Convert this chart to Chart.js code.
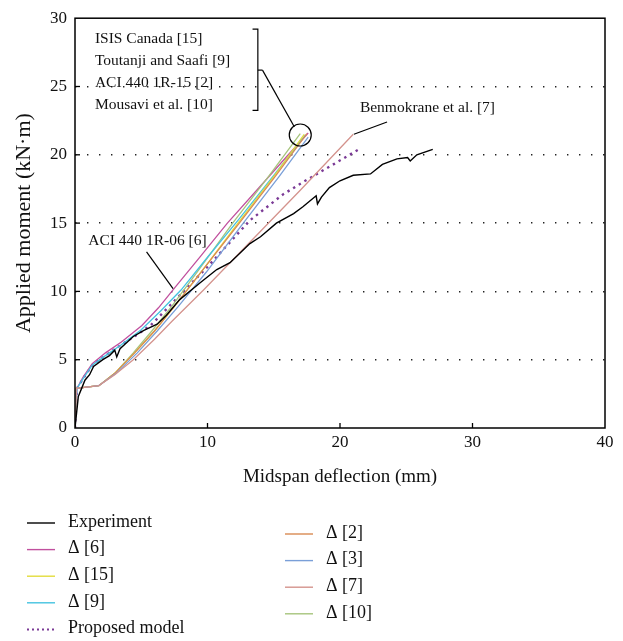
<!DOCTYPE html>
<html>
<head>
<meta charset="utf-8">
<title>Applied moment vs midspan deflection</title>
<style>
  html, body { margin: 0; padding: 0; background: #fff; }
</style>
</head>
<body>
<canvas id="myChart" width="623" height="641"></canvas>

<script src="https://cdn.jsdelivr.net/npm/chart.js"></script>
<script>
// ---- data (deflection mm, moment kN.m) ----
const expX = [0, 0.25, 0.5, 0.75, 1.1, 1.4, 2.1, 2.6, 3.0, 3.15, 3.4, 4.4, 5.2, 6.2, 6.9, 7.9, 9.4, 10.7, 11.7, 13.2, 14.0, 15.2, 16.5, 17.2, 18.2, 18.3, 18.6, 19.2, 20.0, 21.0, 22.3, 23.2, 24.3, 25.1, 25.3, 25.8, 27.0];
const expY = [0, 2.3, 2.9, 3.5, 3.9, 4.5, 5.0, 5.3, 5.7, 5.2, 5.8, 6.7, 7.15, 7.6, 8.25, 9.4, 10.6, 11.6, 12.1, 13.5, 14.0, 15.0, 15.7, 16.2, 17.0, 16.4, 16.9, 17.6, 18.1, 18.5, 18.6, 19.3, 19.7, 19.8, 19.55, 20.0, 20.4];

const d6X = [0, 0.15, 0.6, 1.3, 2.3, 3.5, 5.05, 6.3, 7.55, 9.5, 11.5, 13.8, 16.1, 17.6];
const d6Y = [0, 2.9, 3.7, 4.7, 5.5, 6.3, 7.5, 8.8, 10.3, 12.6, 15.0, 17.5, 20.0, 21.6];

const d15X = [0, 0.1, 1.8, 3.0, 4.5, 6.0, 7.5, 9.5, 12.3, 15.0, 17.3];
const d15Y = [0, 2.9, 3.1, 4.0, 5.5, 7.1, 8.9, 11.4, 15.0, 18.4, 21.5];

const d9X = [0, 0.15, 0.6, 1.3, 2.3, 3.5, 5.0, 6.5, 8.0, 10.0, 12.3, 15.0, 17.4];
const d9Y = [0, 2.9, 3.6, 4.6, 5.3, 6.1, 7.2, 8.6, 10.1, 12.5, 15.2, 18.5, 21.45];

const d2X = [0, 0.1, 1.8, 3.0, 4.5, 6.0, 7.5, 9.5, 12.4, 15.1, 17.5];
const d2Y = [0, 2.9, 3.1, 4.0, 5.5, 7.1, 8.9, 11.4, 15.0, 18.4, 21.55];

const d3X = [0, 0.1, 1.8, 3.1, 4.7, 6.2, 7.8, 9.9, 12.7, 15.4, 17.6];
const d3Y = [0, 2.9, 3.1, 4.0, 5.5, 7.1, 8.9, 11.4, 15.0, 18.4, 21.3];

const d7X = [0, 0.1, 1.8, 3.0, 4.4, 6.0, 7.3, 9.7, 13.2, 17.0, 21.0];
const d7Y = [0, 2.9, 3.1, 3.9, 5.0, 6.5, 7.8, 10.1, 13.6, 17.4, 21.5];

const d10X = [0, 0.1, 1.8, 3.0, 4.4, 5.8, 7.3, 9.2, 11.9, 14.6, 17.0];
const d10Y = [0, 2.9, 3.1, 4.0, 5.5, 7.1, 8.9, 11.4, 15.0, 18.4, 21.55];

const propX = [0, 0.15, 0.6, 1.3, 2.3, 3.5, 4.8, 5.8, 7.0, 8.5, 10.0, 11.6, 13.2, 15.7, 17.2, 19.5, 21.6];
const propY = [0, 2.9, 3.6, 4.6, 5.3, 6.1, 6.9, 7.6, 8.8, 10.3, 11.8, 13.5, 15.2, 17.1, 18.0, 19.3, 20.5];

const xTicks = [0, 10, 20, 30, 40];
const yTicks = [0, 5, 10, 15, 20, 25, 30];

// legend columns (labels of the datasets)
const legendLeft = ['Experiment', 'Δ [6]', 'Δ [15]', 'Δ [9]', 'Proposed model'];
const legendRight = ['Δ [2]', 'Δ [3]', 'Δ [7]', 'Δ [10]'];

const FONT = "'Liberation Serif', 'DejaVu Serif', serif";

function pts(xs, ys) {
    return xs.map((x, i) => ({ x: x, y: ys[i] }));
}

function line(label, xs, ys, color, width, dash) {
    return {
        label: label,
        data: pts(xs, ys),
        borderColor: color,
        backgroundColor: color,
        borderWidth: width,
        borderDash: dash || [],
        pointRadius: 0,
        tension: 0,
        fill: false
    };
}

// drawing order: bottom first
const datasets = [
    line('Experiment', expX, expY, '#000000', 1.4),
    line('Δ [7]', d7X, d7Y, '#d4938d', 1.3),
    line('Δ [3]', d3X, d3Y, '#7a9fd8', 1.3),
    line('Δ [2]', d2X, d2Y, '#d98a52', 1.3),
    line('Δ [15]', d15X, d15Y, '#e3dc3c', 1.3),
    line('Δ [9]', d9X, d9Y, '#45c3e0', 1.3),
    line('Δ [10]', d10X, d10Y, '#a6c47c', 1.3),
    line('Δ [6]', d6X, d6Y, '#c1509e', 1.3),
    line('Proposed model', propX, propY, '#7b3a96', 2.4, [2.4, 4.2])
];

function seg(ctx, x1, y1, x2, y2) {
    ctx.beginPath();
    ctx.moveTo(x1, y1);
    ctx.lineTo(x2, y2);
    ctx.stroke();
}

// frame, inward ticks, annotations
const decor = {
    id: 'decor',
    afterDatasetsDraw(chart) {
        const ctx = chart.ctx;
        const a = chart.chartArea;
        const sx = chart.scales.x;
        const sy = chart.scales.y;
        const X = v => sx.getPixelForValue(v);
        const Y = v => sy.getPixelForValue(v);

        ctx.save();
        ctx.strokeStyle = '#000';
        ctx.lineWidth = 1.5;
        ctx.strokeRect(a.left, a.top, a.right - a.left, a.bottom - a.top);

        ctx.lineWidth = 1.3;
        xTicks.slice(1, -1).forEach(v => seg(ctx, X(v), a.bottom, X(v), a.bottom - 5));
        yTicks.slice(1, -1).forEach(v => seg(ctx, a.left, Y(v), a.left + 5, Y(v)));

        // annotation text
        ctx.fillStyle = '#111';
        ctx.font = '15.5px ' + FONT;
        ctx.textBaseline = 'middle';
        ctx.textAlign = 'left';
        const names = ['ISIS Canada [15]', 'Toutanji and Saafi [9]', 'ACI 440 1R-15 [2]', 'Mousavi et al. [10]'];
        const rows = [28.45, 26.85, 25.25, 23.65];
        names.forEach((t, i) => ctx.fillText(t, X(1.5), Y(rows[i])));
        ctx.fillText('Benmokrane et al. [7]', X(21.5), Y(23.45));
        ctx.fillText('ACI 440 1R-06 [6]', X(1.0), Y(13.7));

        ctx.lineWidth = 1.2;
        ctx.strokeStyle = '#000';
        // bracket
        ctx.beginPath();
        ctx.moveTo(X(13.4), Y(29.2));
        ctx.lineTo(X(13.8), Y(29.2));
        ctx.lineTo(X(13.8), Y(23.25));
        ctx.lineTo(X(13.4), Y(23.25));
        ctx.stroke();
        seg(ctx, X(13.8), Y(26.2), X(14.15), Y(26.2));
        seg(ctx, X(14.15), Y(26.2), X(16.55), Y(22.05));
        ctx.beginPath();
        ctx.arc(X(17.0), Y(21.45), 11, 0, Math.PI * 2);
        ctx.stroke();
        // pointers
        seg(ctx, X(23.55), Y(22.4), X(21.05), Y(21.5));
        seg(ctx, X(5.4), Y(12.9), X(7.4), Y(10.2));
        ctx.restore();
    },
    afterDraw(chart) {
        const ctx = chart.ctx;
        const byLabel = {};
        chart.data.datasets.forEach(d => { byLabel[d.label] = d; });
        ctx.save();
        ctx.font = '18px ' + FONT;
        ctx.textBaseline = 'middle';
        ctx.textAlign = 'left';
        ctx.fillStyle = '#111';
        const drawCol = (labels, x0, y0) => {
            labels.forEach((lab, i) => {
                const d = byLabel[lab];
                const yy = y0 + i * 26.6;
                ctx.strokeStyle = d.borderColor;
                ctx.lineWidth = d.borderDash.length ? 2 : 1.4;
                ctx.setLineDash(d.borderDash.length ? [2, 3] : []);
                seg(ctx, x0, yy, x0 + 28, yy);
                ctx.setLineDash([]);
                ctx.fillText(lab, x0 + 41, yy - 1);
            });
        };
        drawCol(legendLeft, 27, 523);
        drawCol(legendRight, 285, 534);
        ctx.restore();
    }
};

const config = {
    type: 'line',
    data: { datasets: datasets },
    options: {
        responsive: false,
        animation: false,
        devicePixelRatio: 1,
        layout: { padding: { left: 0, right: 18, top: 17, bottom: 153 } },
        plugins: {
            legend: { display: false },
            tooltip: { enabled: false }
        },
        scales: {
            x: {
                type: 'linear',
                min: 0,
                max: 40,
                afterBuildTicks: s => { s.ticks = xTicks.map(v => ({ value: v })); },
                afterFit: s => { s.height = 60; },
                grid: { display: false, drawTicks: false },
                border: { display: false },
                ticks: { color: '#111', padding: 4, font: { family: FONT, size: 17 } },
                title: {
                    display: true,
                    text: 'Midspan deflection (mm)',
                    color: '#111',
                    padding: 0,
                    font: { family: FONT, size: 19 }
                }
            },
            y: {
                type: 'linear',
                min: 0,
                max: 30,
                afterBuildTicks: s => { s.ticks = yTicks.map(v => ({ value: v })); },
                afterFit: s => { s.width = 75; },
                grid: {
                    drawTicks: false,
                    lineWidth: 1.4,
                    color: c => (c.tick && c.tick.value > 0 && c.tick.value < 30) ? '#222' : 'rgba(0,0,0,0)'
                },
                border: { display: false, dash: [1.4, 10.6] },
                ticks: { color: '#111', padding: 8, font: { family: FONT, size: 17 } },
                title: {
                    display: true,
                    text: 'Applied moment (kN·m)',
                    color: '#111',
                    padding: { top: 11, bottom: 0, left: 0, right: 0 },
                    font: { family: FONT, size: 22 }
                }
            }
        }
    },
    plugins: [decor]
};

const myChart = new Chart(document.getElementById('myChart'), config);
</script>
</body>
</html>
